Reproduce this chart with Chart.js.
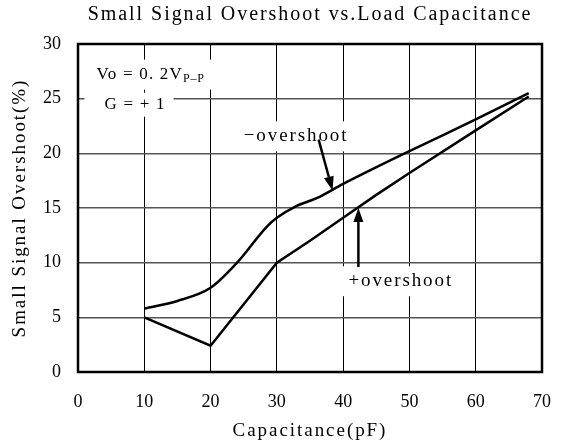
<!DOCTYPE html>
<html>
<head>
<meta charset="utf-8">
<script src="https://cdn.jsdelivr.net/npm/chart.js@4"></script>
<style>
html, body { margin: 0; padding: 0; background: #fff; }
#contenedor { width: 570px; height: 443px; }
</style>
</head>
<body>
<div id="contenedor"><canvas id="grafico"></canvas></div>
<script>
// Datos (capacitancia en pF, overshoot en %)
const capMenos = [10, 15, 20, 24, 28.5, 30, 33, 36, 40, 50, 60, 68];
const overMenos = [5.8, 6.5, 7.7, 10.0, 13.3, 14.1, 15.2, 15.9, 17.2, 20.2, 23.1, 25.5];

const capMas = [10, 20, 30, 35, 40, 45, 50, 60, 68];
const overMas = [5.0, 2.4, 10.0, 12.0, 14.1, 16.2, 18.2, 22.1, 25.2];

const ticksX = [0, 10, 20, 30, 40, 50, 60, 70];
const ticksY = [0, 5, 10, 15, 20, 25, 30];

// Textos de las notas y flechas (en coordenadas de datos)
const textosNotas = ['Vo = 0. 2V', 'G = + 1', '\u2212overshoot', '+overshoot'];
const notasX = [2.8, 4.0, 25.0, 40.8];
const notasY = [27.2, 24.45, 21.55, 8.3];
const flechaMenos = [[36.3, 21.25], [38.4, 16.6]];
const flechaMas = [[42.3, 9.6], [42.3, 15.0]];

const FUENTE = "'Liberation Serif', 'DejaVu Serif', serif";
Chart.defaults.font.family = FUENTE;
Chart.defaults.color = '#000';

function aPuntos(xs, ys) {
    return xs.map((x, i) => ({ x: x, y: ys[i] }));
}

function dibujarFlecha(ctx, sx, sy, flecha) {
    const x1 = sx.getPixelForValue(flecha[0][0]), y1 = sy.getPixelForValue(flecha[0][1]);
    const x2 = sx.getPixelForValue(flecha[1][0]), y2 = sy.getPixelForValue(flecha[1][1]);
    const ang = Math.atan2(y2 - y1, x2 - x1);
    const largo = 14, ancho = 5;
    const bx = x2 - largo * Math.cos(ang), by = y2 - largo * Math.sin(ang);
    ctx.beginPath();
    ctx.moveTo(x1, y1);
    ctx.lineTo(bx, by);
    ctx.lineWidth = 2.5;
    ctx.strokeStyle = '#000';
    ctx.stroke();
    ctx.beginPath();
    ctx.moveTo(x2, y2);
    ctx.lineTo(bx + ancho * Math.sin(ang), by - ancho * Math.cos(ang));
    ctx.lineTo(bx - ancho * Math.sin(ang), by + ancho * Math.cos(ang));
    ctx.closePath();
    ctx.fillStyle = '#000';
    ctx.fill();
}

// Plugin para las notas con fondo blanco, las flechas y el marco
const notas = {
    id: 'notas',
    beforeDraw(chart) {
        // el tipo de letra original es más ancho: se abre el espaciado
        chart.ctx.letterSpacing = '1.95px';
    },
    beforeDatasetsDraw(chart) {
        const ctx = chart.ctx, sx = chart.scales.x, sy = chart.scales.y;
        ctx.save();
        ctx.textBaseline = 'middle';
        textosNotas.forEach((texto, i) => {
            const grande = i >= 2;
            ctx.letterSpacing = grande ? '1.9px' : '1.2px';
            ctx.font = (grande ? 19 : 17) + 'px ' + FUENTE;
            const x = sx.getPixelForValue(notasX[i]);
            const y = sy.getPixelForValue(notasY[i]);
            const w0 = ctx.measureText(texto).width;
            let w = w0;
            if (i === 0) {
                ctx.letterSpacing = '0.8px';
                ctx.font = '12px ' + FUENTE;
                w += ctx.measureText('P\u2013P').width;
            }
            ctx.fillStyle = '#fff';
            if (i === 1) ctx.fillRect(x - 20, y - 12, w + 28, 24);
            else ctx.fillRect(x - 8, y - 15, w + 16, 30);
            ctx.fillStyle = '#000';
            if (i === 0) {
                ctx.fillText('P\u2013P', x + w0, y + 4);
                ctx.letterSpacing = '1.2px';
                ctx.font = '17px ' + FUENTE;
            }
            ctx.fillText(texto, x, y);
        });
        ctx.restore();
    },
    afterDatasetsDraw(chart) {
        const ctx = chart.ctx, sx = chart.scales.x, sy = chart.scales.y;
        const a = chart.chartArea;
        ctx.save();
        dibujarFlecha(ctx, sx, sy, flechaMenos);
        dibujarFlecha(ctx, sx, sy, flechaMas);
        ctx.lineWidth = 2.5;
        ctx.strokeStyle = '#000';
        ctx.strokeRect(a.left, a.top, a.right - a.left, a.bottom - a.top);
        ctx.restore();
        // los números de los ejes van sin espaciado extra
        ctx.letterSpacing = '0px';
    }
};

const ctx = document.getElementById('grafico').getContext('2d');
new Chart(ctx, {
    type: 'line',
    data: {
        datasets: [
            {
                label: '-overshoot',
                data: aPuntos(capMenos, overMenos),
                borderColor: '#000',
                borderWidth: 2.5,
                pointRadius: 0,
                fill: false,
                cubicInterpolationMode: 'monotone'
            },
            {
                label: '+overshoot',
                data: aPuntos(capMas, overMas),
                borderColor: '#000',
                borderWidth: 2.5,
                pointRadius: 0,
                fill: false,
                tension: 0
            }
        ]
    },
    options: {
        responsive: true,
        maintainAspectRatio: false,
        devicePixelRatio: 1,
        animation: false,
        layout: { padding: { left: 0, right: 20, top: 0, bottom: 0 } },
        scales: {
            x: {
                type: 'linear',
                min: 0,
                max: 70,
                afterBuildTicks: s => { s.ticks = ticksX.map(v => ({ value: v })); },
                ticks: { font: { size: 18 }, padding: 19, color: '#000', z: 1 },
                grid: { color: '#000', lineWidth: 1, drawTicks: false },
                border: { display: false },
                title: {
                    display: true,
                    text: 'Capacitance(pF)',
                    font: { size: 19 },
                    color: '#000',
                    padding: { top: 0, bottom: 1 }
                },
                afterFit: s => { s.height = 71; }
            },
            y: {
                min: 0,
                max: 30,
                afterBuildTicks: s => { s.ticks = ticksY.map(v => ({ value: v })); },
                ticks: { font: { size: 18 }, padding: 17, color: '#000', z: 1 },
                grid: { color: '#555', lineWidth: 1.5, drawTicks: false },
                border: { display: false },
                title: {
                    display: true,
                    text: 'Small Signal Overshoot(%)',
                    font: { size: 19 },
                    color: '#000',
                    padding: { top: 9, bottom: 0 }
                },
                afterFit: s => { s.width = 78; }
            }
        },
        plugins: {
            legend: { display: false },
            tooltip: { enabled: false },
            title: {
                display: true,
                text: 'Small Signal Overshoot vs.Load Capacitance',
                fullSize: false,
                font: { size: 20, weight: 'normal' },
                color: '#000',
                padding: { top: 3, bottom: 17 }
            }
        }
    },
    plugins: [notas]
});
</script>
</body>
</html>
